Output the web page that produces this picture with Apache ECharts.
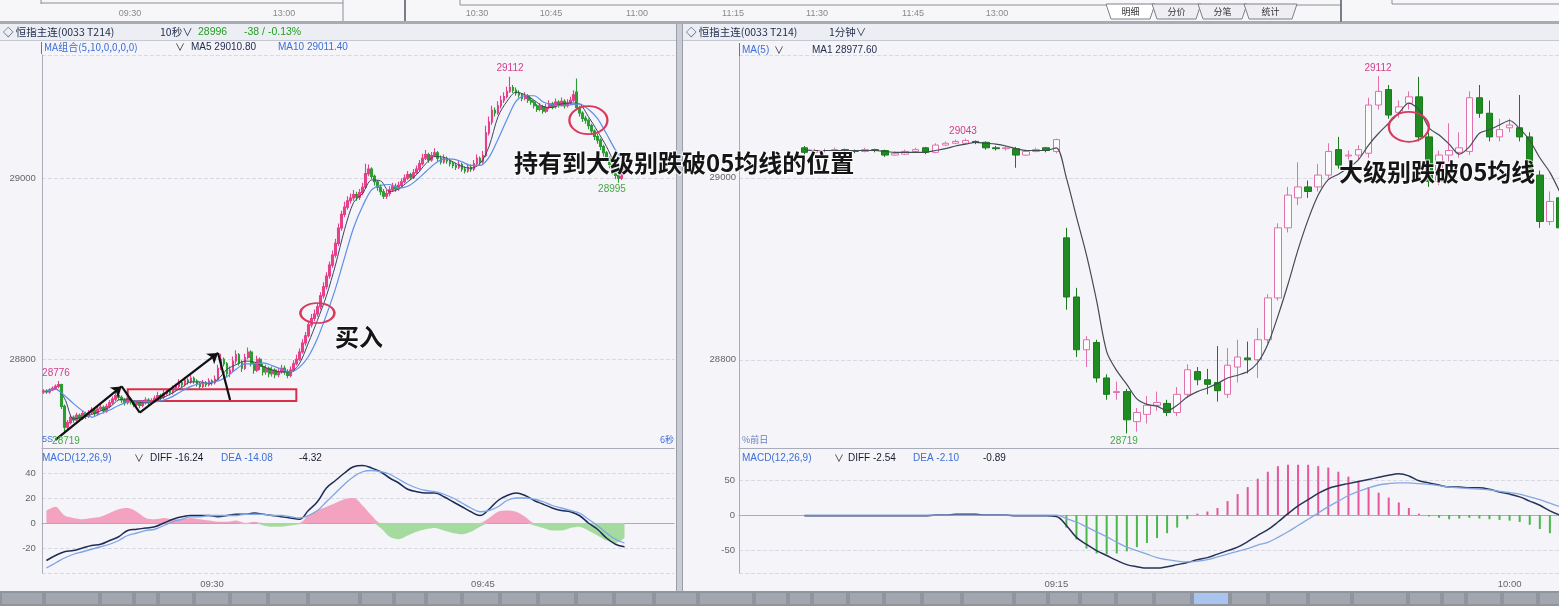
<!DOCTYPE html>
<html><head><meta charset="utf-8">
<script src="https://cdn.jsdelivr.net/npm/echarts@6.0.0/dist/echarts.min.js"></script>
<style>html,body{margin:0;padding:0;background:#f4f4f9;}#c{width:1559px;height:606px;}</style>
</head><body><div id="c"></div>
<script>
// ---------- LEFT PANEL : 10-second bars (starting 09:20:40) ----------
const leftOpen=[28764,28765,28764,28766,28768,28770,28772,28748,28725,28730,28736,28733,28738,28735,28740,28737,28741,28744,28740,28745,28747,28743,28748,28752,28756,28760,28758,28755,28752,28756,28753,28750,28752,28749,28752,28755,28752,28754,28757,28760,28758,28762,28765,28763,28767,28770,28774,28772,28777,28775,28779,28776,28773,28770,28774,28772,28776,28774,28778,28790,28800,28795,28784,28788,28798,28805,28796,28790,28802,28808,28795,28788,28800,28792,28786,28790,28784,28788,28783,28786,28790,28786,28782,28788,28795,28800,28808,28818,28826,28838,28845,28850,28858,28870,28880,28892,28904,28915,28928,28945,28960,28968,28975,28978,28982,28979,28984,28990,29005,29010,29002,28996,28990,28985,28980,28983,28987,28991,28988,28992,28996,29000,29004,29001,29006,29010,29016,29022,29026,29020,29025,29028,29022,29018,29022,29019,29016,29014,29012,29015,29010,29008,29012,29010,29016,29022,29018,29025,29050,29062,29075,29072,29080,29086,29090,29096,29100,29097,29094,29092,29088,29091,29086,29084,29080,29076,29079,29074,29078,29082,29079,29084,29081,29085,29080,29083,29086,29095,29078,29072,29066,29064,29058,29052,29046,29042,29035,29028,29022,29015,29008,29003,29000,29006];
const leftClose=[28765,28764,28766,28768,28770,28772,28748,28725,28730,28736,28733,28738,28735,28740,28737,28741,28744,28740,28745,28747,28743,28748,28752,28756,28760,28758,28755,28752,28756,28753,28750,28752,28749,28752,28755,28752,28754,28757,28760,28758,28762,28765,28763,28767,28770,28774,28772,28777,28775,28779,28776,28773,28770,28774,28772,28776,28774,28778,28790,28800,28795,28784,28788,28798,28805,28796,28790,28802,28808,28795,28788,28800,28792,28786,28790,28784,28788,28783,28786,28790,28786,28782,28788,28795,28800,28808,28818,28826,28838,28845,28850,28858,28870,28880,28892,28904,28915,28928,28945,28960,28968,28975,28978,28982,28979,28984,28990,29005,29010,29002,28996,28990,28985,28980,28983,28987,28991,28988,28992,28996,29000,29004,29001,29006,29010,29016,29022,29026,29020,29025,29028,29022,29018,29022,29019,29016,29014,29012,29015,29010,29008,29012,29010,29016,29022,29018,29025,29050,29062,29075,29072,29080,29086,29090,29096,29100,29097,29094,29092,29088,29091,29086,29084,29080,29076,29079,29074,29078,29082,29079,29084,29081,29085,29080,29083,29086,29092,29078,29072,29066,29064,29058,29052,29046,29042,29035,29028,29022,29015,29008,29003,29000,29006,29010];
const leftHigh=[28767,28767,28768,28770,28772,28776,28773,28750,28733,28739,28738,28741,28740,28743,28742,28744,28747,28746,28748,28751,28749,28751,28755,28759,28764,28762,28760,28757,28759,28758,28755,28755,28754,28755,28758,28757,28757,28760,28764,28762,28766,28768,28767,28771,28773,28778,28776,28780,28779,28783,28781,28778,28775,28777,28776,28779,28778,28782,28794,28806,28802,28797,28792,28803,28810,28807,28799,28806,28813,28810,28797,28804,28802,28795,28794,28792,28792,28790,28790,28794,28793,28789,28792,28799,28805,28812,28822,28830,28842,28850,28855,28862,28874,28885,28896,28908,28920,28933,28950,28964,28974,28980,28983,28987,28985,28988,28995,29016,29015,29012,29004,28998,28993,28988,28987,28991,28995,28994,28996,29000,29004,29008,29006,29010,29014,29020,29027,29031,29028,29029,29033,29030,29025,29026,29024,29022,29019,29017,29019,29017,29013,29016,29015,29020,29026,29024,29030,29058,29068,29080,29078,29085,29091,29095,29101,29112,29103,29100,29097,29094,29095,29093,29089,29086,29082,29083,29081,29082,29086,29084,29088,29086,29089,29087,29087,29090,29097,29110,29080,29074,29069,29066,29060,29054,29049,29044,29037,29030,29024,29017,29010,29005,29009,29013];
const leftLow=[28762,28762,28762,28765,28766,28768,28745,28719,28722,28728,28730,28731,28732,28733,28734,28735,28739,28737,28738,28743,28740,28741,28746,28750,28754,28755,28752,28749,28750,28750,28747,28748,28746,28747,28750,28749,28750,28752,28755,28755,28756,28760,28760,28761,28765,28768,28769,28770,28772,28773,28773,28770,28767,28768,28769,28770,28771,28772,28776,28788,28792,28780,28780,28786,28795,28793,28786,28788,28800,28792,28784,28786,28788,28782,28783,28780,28781,28779,28780,28784,28783,28779,28780,28786,28793,28798,28806,28815,28824,28835,28842,28847,28855,28867,28877,28889,28901,28912,28925,28942,28957,28965,28972,28975,28975,28976,28981,28988,29002,28999,28992,28986,28981,28977,28977,28980,28985,28985,28986,28990,28994,28998,28998,28999,29004,29008,29014,29020,29017,29018,29023,29019,29015,29016,29016,29013,29011,29009,29010,29007,29005,29006,29007,29008,29014,29015,29016,29023,29047,29059,29068,29070,29077,29083,29088,29094,29094,29091,29089,29085,29086,29083,29081,29077,29073,29074,29071,29072,29076,29076,29077,29078,29079,29077,29078,29081,29084,29075,29068,29062,29060,29054,29048,29042,29038,29031,29024,29018,29011,29004,28999,28995,28998,29004];
// moving averages read every 3rd bar (bars 1,4,7,...)
const leftMA5=[28765,28767,28757,28734,28736,28739,28743,28747,28755,28756,28753,28752,28754,28758,28763,28769,28775,28775,28773,28778,28789,28794,28798,28797,28792,28788,28786,28786,28795,28818,28843,28870,28904,28943,28973,28983,28998,28997,28985,28988,28996,29004,29016,29024,29023,29018,29013,29011,29016,29035,29068,29085,29095,29092,29086,29079,29078,29082,29083,29082,29068,29052,29035,29015,29005];
const leftMA10=[28765,28767,28760,28751,28743,28736,28740,28744,28749,28753,28754,28753,28753,28755,28759,28765,28770,28773,28774,28776,28781,28789,28795,28795,28796,28793,28789,28786,28791,28803,28823,28849,28878,28912,28945,28969,28987,28992,28993,28989,28991,28998,29007,29016,29021,29021,29018,29014,29014,29023,29043,29065,29085,29091,29091,29084,29081,29080,29081,29082,29076,29066,29049,29031,29017];
const leftDIFF=[-30,-26,-23,-22,-20,-18,-17,-14,-11,-6,-5,-4,-3,0,3,5,6,6,6,5,6,7,7,8,7,6,5,4,3,10,17,28,34,40,45,46,44,41,36,32,27,25,24,24,21,17,13,9,6,11,18,22,24,22,18,15,12,10,9,6,0,-5,-12,-17,-19];
const leftDEA=[-36,-32,-28,-25,-23,-21,-19,-17,-14,-10,-8,-6,-5,-2,1,3,5,5,6,6,6,6,7,7,7,6,6,5,4,6,10,17,24,31,37,41,42,41,39,35,31,28,26,25,23,20,16,12,9,10,13,18,20,20,19,17,14,12,10,8,3,-2,-8,-13,-16];
const leftHist=[10,13,6,4,3,4,5,8,11,12,9,4,3,4,3,3,4,3,2,1,1,2,-1,1,-2,-3,-3,-2,-1,6,10,13,16,19,20,14,6,-4,-11,-13,-10,-7,-5,-4,-6,-8,-9,-7,-3,4,9,10,9,5,-2,-4,-6,-6,-4,-3,-6,-10,-14,-16,-12];
const leftTicks=['09:30:00','09:45:00'];
const leftYLabels=[28800,29000];
const leftMacdLabels=[-20,0,20,40];

// ---------- RIGHT PANEL : 1-minute bars (08:50 .. 10:05) ----------
const rightOpen=[29033,29028,29030,29030,29031,29030,29029,29031,29030,29025,29026,29029,29033,29028,29036,29038,29038,29040,29039,29033,29032,29032,29025,29029,29033,29029,28934,28869,28811,28819,28780,28764,28765,28732,28740,28750,28752,28742,28762,28787,28778,28775,28762,28792,28802,28800,28822,28868,28945,28978,28990,28990,29003,29031,29024,29025,29027,29080,29097,29072,29082,29089,29045,28996,29025,29028,29029,29088,29071,29045,29055,29055,29045,29003,28952,28978];
const rightClose=[29028,29030,29030,29031,29030,29029,29031,29030,29025,29027,29029,29031,29028,29036,29038,29040,29041,29039,29033,29032,29033,29025,29029,29031,29030,29042,28869,28811,28822,28780,28762,28765,28734,28742,28750,28753,28742,28762,28789,28778,28773,28766,28794,28803,28800,28822,28868,28945,28981,28990,28985,29003,29029,29014,29025,29031,29080,29095,29069,29078,29089,29045,28996,29025,29030,29033,29088,29071,29045,29053,29058,29045,29003,28952,28974,28945];
const rightHigh=[29035,29032,29032,29033,29032,29031,29033,29032,29031,29029,29031,29033,29034,29038,29040,29042,29043,29041,29040,29035,29035,29034,29031,29033,29034,29043,28945,28879,28826,28822,28784,28776,28768,28747,28760,28765,28756,28770,28795,28792,28790,28815,28813,28822,28820,28835,28872,28950,28990,29017,28997,29015,29038,29045,29030,29036,29088,29112,29102,29085,29095,29111,29050,29030,29060,29050,29095,29102,29085,29065,29065,29091,29050,29008,28985,28982];
const rightLow=[29026,29027,29028,29029,29028,29027,29028,29028,29023,29024,29025,29028,29026,29027,29035,29037,29037,29037,29031,29030,29030,29011,29024,29028,29028,29027,28855,28803,28792,28775,28756,28756,28719,28721,28730,28744,28738,28738,28758,28772,28762,28754,28758,28775,28785,28780,28818,28865,28940,28970,28978,28985,29000,29010,29018,29020,29022,29075,29065,29066,29075,29040,28990,28992,29018,29022,29025,29066,29040,29040,29050,29040,28998,28945,28948,28935];
const rightMA5=[29031,29030,29030,29030,29030,29030,29030,29030,29029,29028,29028,29028,29028,29030,29032,29035,29037,29039,29038,29037,29035,29032,29030,29030,29030,29033,29000,28957,28915,28865,28809,28788,28773,28757,28751,28749,28744,28750,28759,28765,28769,28774,28780,28783,28787,28797,28817,28848,28883,28921,28954,28981,28998,29004,29011,29020,29036,29049,29060,29071,29082,29075,29055,29047,29037,29026,29034,29049,29053,29058,29063,29054,29041,29022,29006,28984];
const rightDIFF=[-1,-1,-1,-1,-1,-1,-1,-1,-1,-1,-1,-1,-1,0,0,1,1,1,0,0,0,-1,-1,-1,-1,-2,-15,-32,-42,-51,-58,-65,-71,-74,-76,-76,-74,-71,-68,-64,-61,-56,-51,-46,-38,-29,-21,-10,2,13,22,31,38,42,45,48,51,54,57,59,56,49,46,43,40,40,39,39,37,33,30,26,20,14,6,0];
const rightDEA=[0,0,0,0,0,0,0,0,0,0,0,0,0,0,0,0,0,0,0,0,0,0,0,0,0,0,-5,-10,-17,-24,-31,-39,-46,-51,-56,-61,-64,-66,-67,-66,-64,-60,-56,-52,-48,-43,-39,-32,-24,-15,-6,3,12,20,28,34,39,43,45,46,46,45,44,42,40,39,38,37,36,34,32,30,26,22,17,12];
const rightHist=[0,0,0,0,0,0,0,0,0,0,0,0,0,0,0,0,0,0,0,0,0,0,0,0,0,0,-18,-35,-48,-55,-56,-55,-52,-46,-40,-33,-26,-18,-6,2,5,10,20,30,40,52,62,70,72,72,72,70,68,62,55,48,40,32,25,18,10,2,-2,-4,-6,-5,-4,-5,-6,-7,-8,-10,-14,-20,-26,-30];
const rightTicks=['09:15','10:00'];
const rightYLabels=[28800,29000];
const rightMacdLabels=[-50,0,50];

// ---------- categories ----------
const p2=n=>(n<10?'0':'')+n;
const leftCats=[];for(let i=0;i<210;i++){const t=9*3600+20*60+40+i*10;leftCats.push(p2(Math.floor(t/3600))+':'+p2(Math.floor(t%3600/60))+':'+p2(t%60));}
const leftSub=[];for(let j=0;j<70;j++)leftSub.push('s'+j);
const rightCats=[];for(let i=0;i<82;i++){const t=8*60+44+i;rightCats.push(p2(Math.floor(t/60))+':'+p2(t%60));}
const RP=6; // empty leading minutes on the right axis
const padArr=n=>new Array(n).fill('-');

const leftCandles=leftClose.map((c,i)=>[leftOpen[i],c,leftLow[i],leftHigh[i]]);
const rightCandles=padArr(RP).map(()=>['-','-','-','-']).concat(rightClose.map((c,i)=>[rightOpen[i],c,rightLow[i],rightHigh[i]]));
// histogram split by sign so that each side gets its own colour
const leftHistPos=leftHist.map(v=>v>0?v:0);
const leftHistNeg=leftHist.map(v=>v<0?v:0);

const lblFont={fontSize:9.5,color:'#666',fontFamily:'Liberation Sans'};
const axLine={show:true,lineStyle:{color:'#a9adb9',width:1}};
const split={show:true,lineStyle:{color:'#d9d9e3',type:'dashed',width:1}};
const ELL='path://M0 10A10 10 0 1 1 20 10A10 10 0 1 1 0 10Z';

const chart=echarts.init(document.getElementById('c'),null,{renderer:'canvas'});

// ---------- graphic decorations ----------
const G=[];
const txt=(x,y,text,o={})=>G.push({type:'text',z:100,silent:true,style:Object.assign({x:x,y:y,text:text,fill:'#222',fontSize:10,fontFamily:'Noto Sans CJK SC',align:'left',verticalAlign:'middle'},o)});
const rect=(x,y,w,h,fill,o={})=>G.push({type:'rect',z:o.z||1,silent:true,shape:{x:x,y:y,width:w,height:h},style:Object.assign({fill:fill},o.style||{})});
const line=(x1,y1,x2,y2,c,w)=>G.push({type:'line',z:5,silent:true,shape:{x1:x1,y1:y1,x2:x2,y2:y2},style:{stroke:c,lineWidth:w||1}});

// top strip
rect(0,0,1559,22,'#f7f7fa');
line(41,3,343,3,'#8a8e98',1);line(41,0,41,4,'#8a8e98',1);line(343,0,343,21,'#8a8e98',1);
line(405,0,405,21,'#7a7e88',2);
line(460,0,460,5,'#8a8e98',1);line(460,5,1106,5,'#8a8e98',1);
line(1297,5,1341,5,'#8a8e98',1);line(1341,0,1341,22,'#7a7e88',2);
line(1392,0,1392,4,'#8a8e98',1);line(1392,4,1559,4,'#8a8e98',1);
[['09:30',130],['13:00',284],['10:30',477],['10:45',551],['11:00',637],['11:15',733],['11:30',817],['11:45',913],['13:00',997]].forEach(a=>txt(a[1],14,a[0],{fontSize:9,fill:'#888',align:'center',fontFamily:'Liberation Sans'}));
[['明细',1106,1155,true],['分价',1152,1201],['分笔',1198,1247],['统计',1244,1297]].forEach(t=>{
  G.push({type:'polygon',z:3,silent:true,shape:{points:[[t[1],4],[t[1]+5,19],[t[2]-5,19],[t[2],4]]},style:{fill:t[3]?'#ffffff':'#eeeef3',stroke:'#7d818b',lineWidth:1}});
  txt((t[1]+t[2])/2,12,t[0],{fontSize:9,align:'center',fill:'#333'});
});
rect(0,21,1559,3,'#a7abb4');
// header rows
rect(0,24,1559,16,'#eceef4');line(0,40.5,1559,40.5,'#c4c8d2',1);
// panel divider
rect(676,24,7,568,'#c9ccd5');line(676.5,24,676.5,592,'#9a9ea8',1);line(682.5,24,682.5,592,'#9a9ea8',1);
// bottom bar
rect(0,591,1559,15,'#8f959e');
for(let x=2,i=0;x<1559;i++){const w=[40,52,30,20,32,32,34,36,48,30,28,32,34,34,34,34,36][i%17];rect(x,593,w,11,i===31?'#a9c4ee':'#a2a7af');x+=w+4;}

// left header
txt(3,32,'◇ 恒指主连(0033 T214)',{fontSize:10.5,fill:'#1d2a4a'});
txt(160,32,'10秒∨',{fontSize:10.5,fill:'#1d2a4a'});
txt(198,32,'28996',{fontSize:10.5,fill:'#23a023',fontFamily:'Liberation Sans'});
txt(244,32,'-38 / -0.13%',{fontSize:10.5,fill:'#23a023',fontFamily:'Liberation Sans'});
line(41.5,42,41.5,54,'#4a78d8',1);
txt(44,47.5,'MA组合(5,10,0,0,0,0)',{fontSize:10,fill:'#3d6fd6'});
txt(175,47.5,'∨',{fontSize:10,fill:'#333'});
txt(191,47.5,'MA5 29010.80',{fontSize:10,fill:'#1d2a4a',fontFamily:'Liberation Sans'});
txt(278,47.5,'MA10 29011.40',{fontSize:10,fill:'#3d6fd6',fontFamily:'Liberation Sans'});
// right header
txt(686,32,'◇ 恒指主连(0033 T214)',{fontSize:10.5,fill:'#1d2a4a'});
txt(829,32,'1分钟∨',{fontSize:10.5,fill:'#1d2a4a'});
line(739.5,43,739.5,56,'#4a78d8',1);
txt(742,50,'MA(5)',{fontSize:10,fill:'#3d6fd6',fontFamily:'Liberation Sans'});
txt(774,50,'∨',{fontSize:10,fill:'#333'});
txt(812,50,'MA1 28977.60',{fontSize:10,fill:'#1d2a4a',fontFamily:'Liberation Sans'});
// MACD headers
txt(42,458,'MACD(12,26,9)',{fontSize:10,fill:'#3d6fd6',fontFamily:'Liberation Sans'});
txt(134,458,'∨',{fontSize:10,fill:'#333'});
txt(150,458,'DIFF -16.24',{fontSize:10,fill:'#1b1b2b',fontFamily:'Liberation Sans'});
txt(221,458,'DEA -14.08',{fontSize:10,fill:'#3d6fd6',fontFamily:'Liberation Sans'});
txt(299,458,'-4.32',{fontSize:10,fill:'#1b1b2b',fontFamily:'Liberation Sans'});
txt(742,458,'MACD(12,26,9)',{fontSize:10,fill:'#3d6fd6',fontFamily:'Liberation Sans'});
txt(834,458,'∨',{fontSize:10,fill:'#333'});
txt(848,458,'DIFF -2.54',{fontSize:10,fill:'#1b1b2b',fontFamily:'Liberation Sans'});
txt(913,458,'DEA -2.10',{fontSize:10,fill:'#3d6fd6',fontFamily:'Liberation Sans'});
txt(983,458,'-0.89',{fontSize:10,fill:'#1b1b2b',fontFamily:'Liberation Sans'});
// small corner marks
txt(42,440,'5S',{fontSize:9,fill:'#3d6fd6',fontFamily:'Liberation Sans'});
txt(660,440,'6秒',{fontSize:9,fill:'#3d6fd6'});
txt(742,440,'%前日',{fontSize:9,fill:'#6a7fb8'});
// value labels
txt(510,68,'29112',{fontSize:10,fill:'#d0408a',align:'center',fontFamily:'Liberation Sans'});
txt(56,373,'28776',{fontSize:10,fill:'#d0408a',align:'center',fontFamily:'Liberation Sans'});
txt(66,441,'28719',{fontSize:10,fill:'#45a845',align:'center',fontFamily:'Liberation Sans'});
txt(612,189,'28995',{fontSize:10,fill:'#45a845',align:'center',fontFamily:'Liberation Sans'});
txt(963,131,'29043',{fontSize:10,fill:'#d0408a',align:'center',fontFamily:'Liberation Sans'});
txt(1378,68,'29112',{fontSize:10,fill:'#d0408a',align:'center',fontFamily:'Liberation Sans'});
txt(1124,441,'28719',{fontSize:10,fill:'#45a845',align:'center',fontFamily:'Liberation Sans'});
// big annotations
const big={fontSize:24,fontWeight:'bold',fill:'#151515',fontFamily:'Noto Sans CJK SC',stroke:'rgba(255,255,255,0.8)',lineWidth:2};
txt(514,163,'持有到大级别跌破05均线的位置',big);
txt(335,337,'买入',big);
txt(1339,172,'大级别跌破05均线',big);

const option={
  animation:false,
  backgroundColor:'#f4f4f9',
  grid:[
    {left:41.9,top:55,width:632.3,height:393,outerBoundsMode:'none',containLabel:false},
    {left:41.9,top:448,width:632.3,height:125,outerBoundsMode:'none',containLabel:false},
    {left:739,top:55,width:826,height:393,outerBoundsMode:'none',containLabel:false},
    {left:739,top:448,width:826,height:125,outerBoundsMode:'none',containLabel:false}
  ],
  xAxis:[
    {type:'category',gridIndex:0,data:leftCats,boundaryGap:true,axisLine:axLine,axisTick:{show:false},axisLabel:{show:false},splitLine:{show:false}},
    {type:'category',gridIndex:0,data:leftSub,show:false,boundaryGap:true},
    {type:'category',gridIndex:1,data:leftCats,boundaryGap:true,axisLine:axLine,axisTick:{show:false},splitLine:{show:false},
      axisLabel:Object.assign({interval:(i,v)=>leftTicks.includes(v),formatter:v=>v.slice(0,5),margin:6,hideOverlap:false},lblFont)},
    {type:'category',gridIndex:1,data:leftSub,show:false,boundaryGap:true},
    {type:'category',gridIndex:2,data:rightCats,boundaryGap:true,axisLine:axLine,axisTick:{show:false},axisLabel:{show:false},splitLine:{show:false}},
    {type:'category',gridIndex:3,data:rightCats,boundaryGap:true,axisLine:axLine,axisTick:{show:false},splitLine:{show:false},
      axisLabel:Object.assign({interval:(i,v)=>rightTicks.includes(v),margin:6,hideOverlap:false},lblFont)}
  ],
  yAxis:[
    {type:'value',gridIndex:0,min:28702,max:29136,splitNumber:2,scale:true,axisLine:axLine,axisTick:{show:false},splitLine:split,
      axisLabel:Object.assign({formatter:v=>leftYLabels.includes(v)?String(v):'',margin:6,showMinLabel:false,showMaxLabel:false},lblFont)},
    {type:'value',gridIndex:1,min:-40,max:60,interval:20,axisLine:axLine,axisTick:{show:false},splitLine:split,
      axisLabel:Object.assign({formatter:v=>leftMacdLabels.includes(v)?String(v):'',margin:6},lblFont)},
    {type:'value',gridIndex:2,min:28703,max:29135,splitNumber:2,scale:true,axisLine:axLine,axisTick:{show:false},splitLine:split,
      axisLabel:Object.assign({formatter:v=>rightYLabels.includes(v)?String(v):'',margin:3,showMinLabel:false,showMaxLabel:false},lblFont)},
    {type:'value',gridIndex:3,min:-83,max:96,splitNumber:4,axisLine:axLine,axisTick:{show:false},splitLine:split,
      axisLabel:Object.assign({formatter:v=>rightMacdLabels.includes(v)?String(v):'',margin:4,showMinLabel:false,showMaxLabel:false},lblFont)}
  ],
  series:[
    {type:'candlestick',xAxisIndex:0,yAxisIndex:0,data:leftCandles,barWidth:2.2,
      itemStyle:{color:'#e6408a',color0:'#2c9c33',borderColor:'#e6408a',borderColor0:'#2c9c33',borderColorDoji:'#e6408a',borderWidth:1.1},
      markLine:{silent:true,symbol:['none','none'],label:{show:false},lineStyle:{color:'#111',width:2.2,type:'solid'},emphasis:{disabled:true},
        data:[
          [{coord:[4,28711]},{coord:[26,28770],symbol:'arrow',symbolSize:10}],
          [{coord:[26,28770]},{coord:[32,28741]}],
          [{coord:[32,28741]},{coord:[58,28807],symbol:'arrow',symbolSize:10}],
          [{coord:[58,28807]},{coord:[62,28755]}]
        ]},
      markArea:{silent:true,itemStyle:{color:'rgba(0,0,0,0)',borderColor:'#d8304a',borderWidth:2},
        data:[[{coord:[28,28767]},{coord:[84,28754]}]]},
      markPoint:{silent:true,symbol:ELL,symbolKeepAspect:false,label:{show:false},itemStyle:{color:'rgba(0,0,0,0)',borderColor:'#d83a5c',borderWidth:2},
        data:[{coord:[91,28851],symbolSize:[34,20]},{coord:[181,29064],symbolSize:[38,28]}]}
    },
    {type:'line',xAxisIndex:1,yAxisIndex:0,data:leftMA5,showSymbol:false,smooth:0.3,lineStyle:{color:'#3b4660',width:1},z:3},
    {type:'line',xAxisIndex:1,yAxisIndex:0,data:leftMA10,showSymbol:false,smooth:0.3,lineStyle:{color:'#5b8fe6',width:1.2},z:3},
    {type:'line',xAxisIndex:3,yAxisIndex:1,data:leftHistPos,showSymbol:false,smooth:0.3,lineStyle:{width:0,opacity:0},itemStyle:{color:'#f3a2bf'},areaStyle:{color:'#f3a2bf',opacity:1,origin:0},z:2},
    {type:'line',xAxisIndex:3,yAxisIndex:1,data:leftHistNeg,showSymbol:false,smooth:0.3,lineStyle:{width:0,opacity:0},itemStyle:{color:'#a6dba0'},areaStyle:{color:'#a6dba0',opacity:1,origin:0},z:2},
    {type:'line',xAxisIndex:3,yAxisIndex:1,data:leftDIFF,showSymbol:false,smooth:0.4,lineStyle:{color:'#1f2b55',width:1.5},z:4},
    {type:'line',xAxisIndex:3,yAxisIndex:1,data:leftDEA,showSymbol:false,smooth:0.4,lineStyle:{color:'#7ea5e6',width:1.3},z:4},
    {type:'candlestick',xAxisIndex:4,yAxisIndex:2,data:rightCandles,barWidth:7,
      itemStyle:{color:'rgba(255,255,255,0.7)',color0:'#1f8c22',borderColor:'#e071ac',borderColor0:'#1a7a1c',borderColorDoji:'#e071ac',borderWidth:1},
      markPoint:{silent:true,symbol:ELL,symbolKeepAspect:false,label:{show:false},itemStyle:{color:'rgba(0,0,0,0)',borderColor:'#d83a5c',borderWidth:2},
        data:[{coord:[66,29056],symbolSize:[40,30]}]}
    },
    {type:'line',xAxisIndex:4,yAxisIndex:2,data:padArr(RP).concat(rightMA5),showSymbol:false,smooth:0.3,lineStyle:{color:'#454b55',width:1.2},z:3},
    {type:'bar',xAxisIndex:5,yAxisIndex:3,data:padArr(RP).concat(rightHist),barWidth:2,
      itemStyle:{color:p=>p.value>=0?'#e8559c':'#4cb84c'}},
    {type:'line',xAxisIndex:5,yAxisIndex:3,data:padArr(RP).concat(rightDIFF),showSymbol:false,smooth:0.4,lineStyle:{color:'#253358',width:1.5},z:4},
    {type:'line',xAxisIndex:5,yAxisIndex:3,data:padArr(RP).concat(rightDEA),showSymbol:false,smooth:0.4,lineStyle:{color:'#86a8e2',width:1.3},z:4}
  ],
  graphic:{elements:G}
};
chart.setOption(option);
</script>
</body></html>
